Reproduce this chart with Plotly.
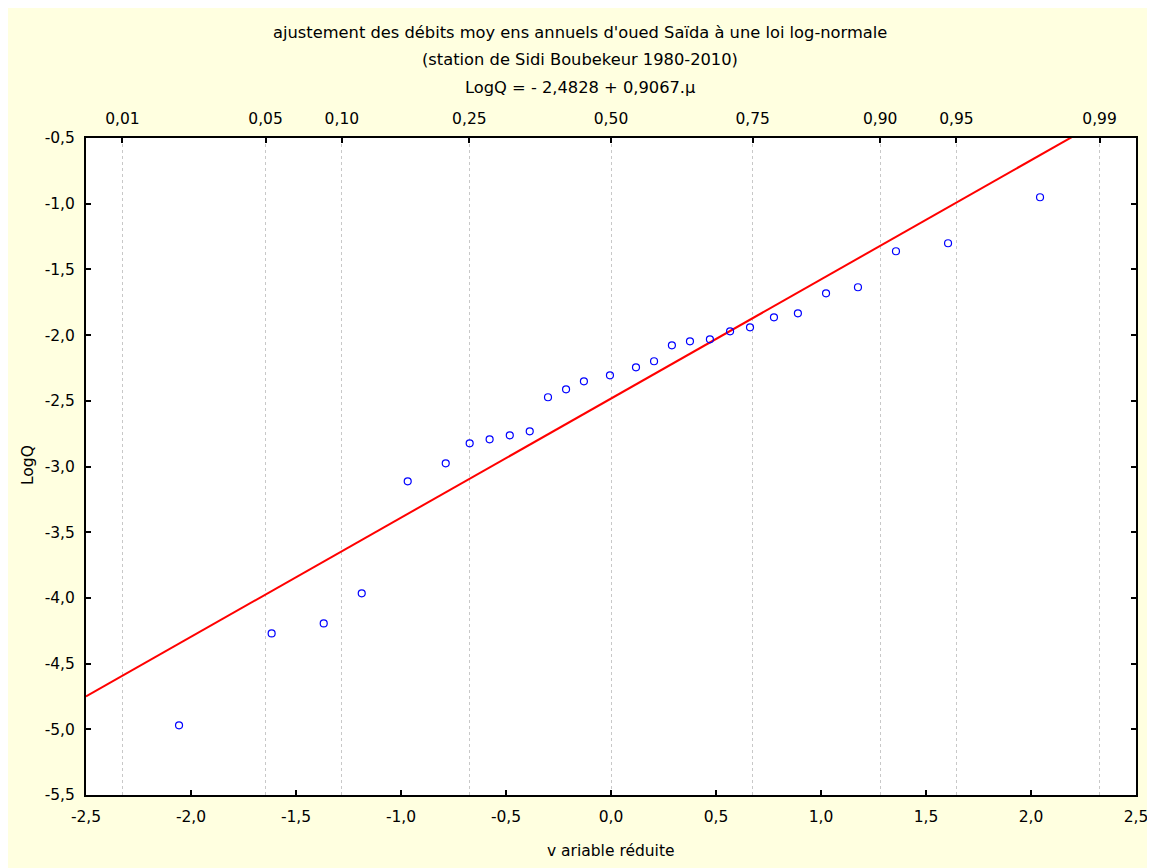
import plotly.graph_objects as go
from statistics import NormalDist

# ---- data ----
u_values = [-2.057, -1.616, -1.368, -1.187, -0.968, -0.787, -0.673, -0.578, -0.482, -0.387,
            -0.300, -0.214, -0.129, -0.005, 0.119, 0.205, 0.290, 0.376, 0.471, 0.567,
            0.662, 0.776, 0.890, 1.024, 1.176, 1.357, 1.605, 2.043]
logq_values = [-4.970, -4.270, -4.194, -3.965, -3.113, -2.976, -2.824, -2.793, -2.763, -2.732,
               -2.473, -2.413, -2.352, -2.306, -2.245, -2.199, -2.078, -2.047, -2.032, -1.971,
               -1.941, -1.865, -1.834, -1.682, -1.636, -1.362, -1.301, -0.951]

fit_intercept = -2.4828
fit_slope = 0.9067

x_tickvals = [-2.5, -2.0, -1.5, -1.0, -0.5, 0.0, 0.5, 1.0, 1.5, 2.0, 2.5]
x_ticktext = ["-2,5", "-2,0", "-1,5", "-1,0", "-0,5", "0,0", "0,5", "1,0", "1,5", "2,0", "2,5"]
y_tickvals = [-5.5, -5.0, -4.5, -4.0, -3.5, -3.0, -2.5, -2.0, -1.5, -1.0, -0.5]
y_ticktext = ["-5,5", "-5,0", "-4,5", "-4,0", "-3,5", "-3,0", "-2,5", "-2,0", "-1,5", "-1,0", "-0,5"]
prob_values = [0.01, 0.05, 0.10, 0.25, 0.50, 0.75, 0.90, 0.95, 0.99]
prob_text = ["0,01", "0,05", "0,10", "0,25", "0,50", "0,75", "0,90", "0,95", "0,99"]

title_lines = [
    "ajustement des débits moy ens annuels d'oued Saïda à une loi log-normale",
    "(station de Sidi Boubekeur 1980-2010)",
    "LogQ = - 2,4828 + 0,9067.µ",
]
x_title = "v ariable réduite"
y_title = "LogQ"

# ---- derived ----
prob_positions = [NormalDist().inv_cdf(p) for p in prob_values]
x_range = [-2.5, 2.5]
y_range = [-5.5, -0.5]
line_x = [x_range[0], x_range[1]]
line_y = [fit_intercept + fit_slope * v for v in line_x]

FONT = "DejaVu Sans, Verdana, sans-serif"
BG = "#FFFFE0"

fig = go.Figure()
fig.add_trace(go.Scatter(x=line_x, y=line_y, mode="lines",
                         line=dict(color="#FF0000", width=2), showlegend=False,
                         cliponaxis=True))
fig.add_trace(go.Scatter(x=u_values, y=logq_values, mode="markers",
                         marker=dict(symbol="circle-open", size=7, color="#0000FF",
                                     line=dict(width=1.2, color="#0000FF")),
                         showlegend=False))
# empty trace on the top (probability) axis so it renders
fig.add_trace(go.Scatter(x=[None], y=[None], xaxis="x2", yaxis="y", showlegend=False))

# page offset (browser body margin) and plot area in screen pixels
OFF = 8
W, H = 1155 - OFF, 868 - OFF
PL, PR, PT, PB = 86, 1136, 138, 795
L, R, T, B = PL - OFF, OFF + W - PR, PT - OFF, OFF + H - PB
pw, ph = PR - PL, PB - PT

def px_to_paper_x(px):
    return (px - PL) / pw

def px_to_paper_y(py):
    return (PB - py) / ph

FS = 15.5
FS_TITLE = 16.3
tickfont = dict(family=FONT, size=FS, color="#000000")

fig.update_layout(
    width=W, height=H, autosize=False,
    margin=dict(l=L, r=R, t=T, b=B, autoexpand=False),
    paper_bgcolor=BG, plot_bgcolor="#FFFFFF",
    font=dict(family=FONT, size=FS, color="#000000"),
    xaxis=dict(range=x_range, tickvals=x_tickvals, ticktext=x_ticktext, automargin=False,
               showgrid=False, zeroline=False, showline=True, linecolor="#000000",
               linewidth=2, ticks="inside", ticklen=5, tickwidth=1.5, tickcolor="#000000",
               mirror=False, tickfont=tickfont, ticklabelstandoff=6),
    xaxis2=dict(range=x_range, overlaying="x", side="top", matches="x", automargin=False,
                tickvals=prob_positions, ticktext=prob_text,
                showgrid=True, gridcolor="#C8C8C8", gridwidth=1, griddash="dot",
                zeroline=False, showline=True, linecolor="#000000", linewidth=2,
                ticks="inside", ticklen=5, tickwidth=1.5, tickcolor="#000000",
                tickfont=tickfont, ticklabelstandoff=6),
    yaxis=dict(range=y_range, tickvals=y_tickvals, ticktext=y_ticktext, automargin=False,
               showgrid=False, zeroline=False, showline=True, linecolor="#000000",
               linewidth=2, ticks="inside", ticklen=5, tickwidth=1.5, tickcolor="#000000",
               mirror="ticks", tickfont=tickfont, ticklabelstandoff=6),
)

title_y_px = [33, 59, 88]
for text, ypx in zip(title_lines, title_y_px):
    fig.add_annotation(text=text, xref="paper", yref="paper",
                       x=px_to_paper_x(580), y=px_to_paper_y(ypx),
                       xanchor="center", yanchor="middle", showarrow=False,
                       font=dict(family=FONT, size=FS_TITLE, color="#000000"))

fig.add_annotation(text=x_title, xref="paper", yref="paper",
                   x=px_to_paper_x(611), y=px_to_paper_y(851),
                   xanchor="center", yanchor="middle", showarrow=False,
                   font=dict(family=FONT, size=FS, color="#000000"))
fig.add_annotation(text=y_title, xref="paper", yref="paper", textangle=-90,
                   x=px_to_paper_x(28), y=px_to_paper_y(465),
                   xanchor="center", yanchor="middle", showarrow=False,
                   font=dict(family=FONT, size=FS, color="#000000"))

fig.write_html("out.html", config={"responsive": False})
